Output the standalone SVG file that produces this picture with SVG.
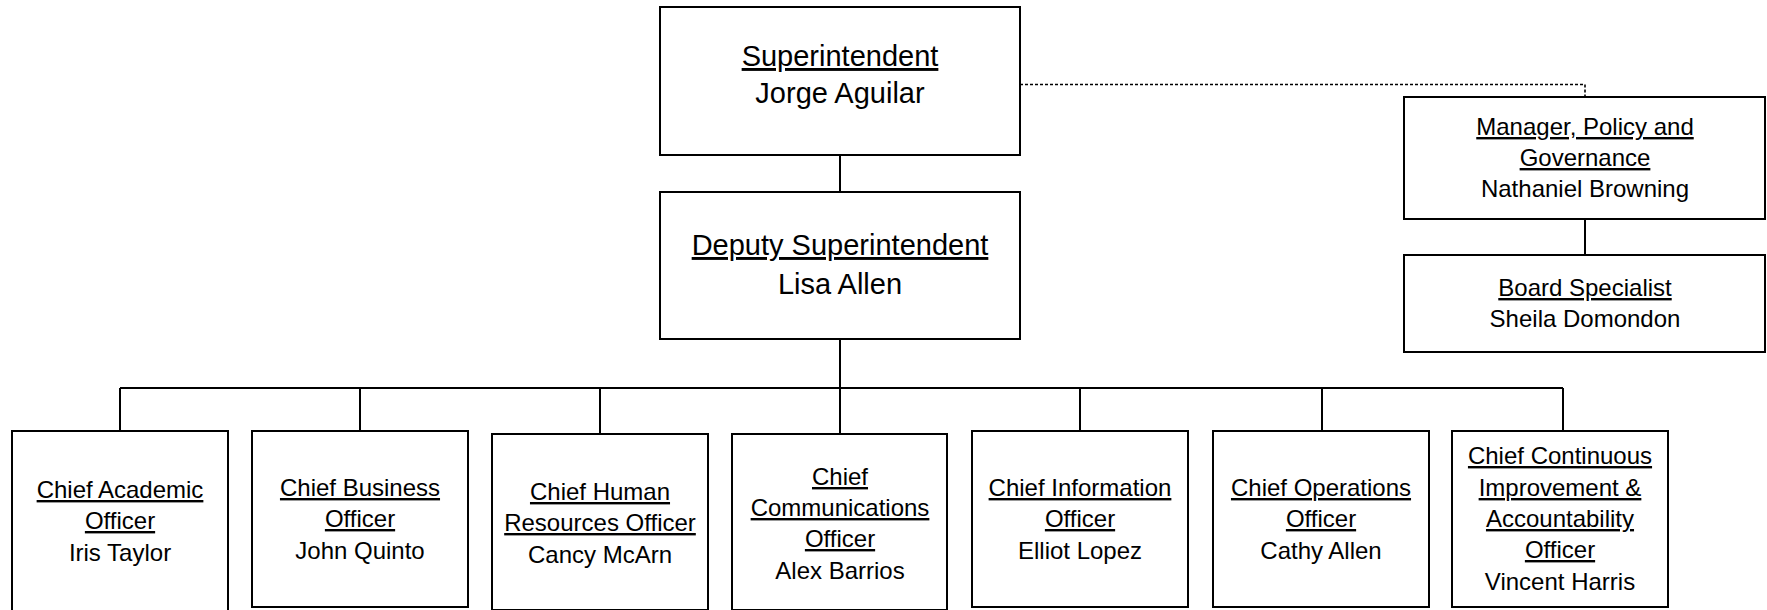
<svg xmlns="http://www.w3.org/2000/svg" width="1767" height="610" viewBox="0 0 1767 610">
<style>
.box{fill:#fff;stroke:#000;stroke-width:2}
.ln{fill:none;stroke:#000;stroke-width:2}
.dot{fill:none;stroke:#000;stroke-width:1.6;stroke-dasharray:3 2}
text{font-family:"Liberation Sans",Arial,sans-serif;fill:#000;text-anchor:middle}
.t1{font-size:29px}
.t2{font-size:24px}
.u{text-decoration:underline}
</style>
<rect width="1767" height="610" fill="#fff"/>
<g id="connectors">
<path class="ln" d="M840 155V192M840 339V388M120 388H1563M120 388V431M360 388V431M600 388V434M840 388V434M1080 388V431M1322 388V431M1563 388V431M1585 219V255"/>
<path class="dot" d="M1020 84.5H1585V97"/>
</g>
<g id="superintendent">
<rect class="box" x="660" y="7" width="360" height="148"/>
<text class="t1 u" x="840" y="66">Superintendent</text>
<text class="t1" x="840" y="103">Jorge Aguilar</text>
</g>
<g id="deputy">
<rect class="box" x="660" y="192" width="360" height="147"/>
<text class="t1 u" x="840" y="255">Deputy Superintendent</text>
<text class="t1" x="840" y="294">Lisa Allen</text>
</g>
<g id="manager">
<rect class="box" x="1404" y="97" width="361" height="122"/>
<text class="t2 u" x="1585" y="135">Manager, Policy and</text>
<text class="t2 u" x="1585" y="166">Governance</text>
<text class="t2" x="1585" y="197">Nathaniel Browning</text>
</g>
<g id="board">
<rect class="box" x="1404" y="255" width="361" height="97"/>
<text class="t2 u" x="1585" y="296">Board Specialist</text>
<text class="t2" x="1585" y="327">Sheila Domondon</text>
</g>
<g id="academic">
<rect class="box" x="12" y="431" width="216" height="190"/>
<text class="t2 u" x="120" y="498">Chief Academic</text>
<text class="t2 u" x="120" y="529">Officer</text>
<text class="t2" x="120" y="561">Iris Taylor</text>
</g>
<g id="business">
<rect class="box" x="252" y="431" width="216" height="176"/>
<text class="t2 u" x="360" y="496">Chief Business</text>
<text class="t2 u" x="360" y="527">Officer</text>
<text class="t2" x="360" y="559">John Quinto</text>
</g>
<g id="hr">
<rect class="box" x="492" y="434" width="216" height="176"/>
<text class="t2 u" x="600" y="500">Chief Human</text>
<text class="t2 u" x="600" y="531">Resources Officer</text>
<text class="t2" x="600" y="563">Cancy McArn</text>
</g>
<g id="communications">
<rect class="box" x="732" y="434" width="215" height="176"/>
<text class="t2 u" x="840" y="485">Chief</text>
<text class="t2 u" x="840" y="516">Communications</text>
<text class="t2 u" x="840" y="547">Officer</text>
<text class="t2" x="840" y="579">Alex Barrios</text>
</g>
<g id="information">
<rect class="box" x="972" y="431" width="216" height="176"/>
<text class="t2 u" x="1080" y="496">Chief Information</text>
<text class="t2 u" x="1080" y="527">Officer</text>
<text class="t2" x="1080" y="559">Elliot Lopez</text>
</g>
<g id="operations">
<rect class="box" x="1213" y="431" width="216" height="176"/>
<text class="t2 u" x="1321" y="496">Chief Operations</text>
<text class="t2 u" x="1321" y="527">Officer</text>
<text class="t2" x="1321" y="559">Cathy Allen</text>
</g>
<g id="improvement">
<rect class="box" x="1452" y="431" width="216" height="176"/>
<text class="t2 u" x="1560" y="464">Chief Continuous</text>
<text class="t2 u" x="1560" y="496">Improvement &amp;</text>
<text class="t2 u" x="1560" y="527">Accountability</text>
<text class="t2 u" x="1560" y="558">Officer</text>
<text class="t2" x="1560" y="590">Vincent Harris</text>
</g>
</svg>
